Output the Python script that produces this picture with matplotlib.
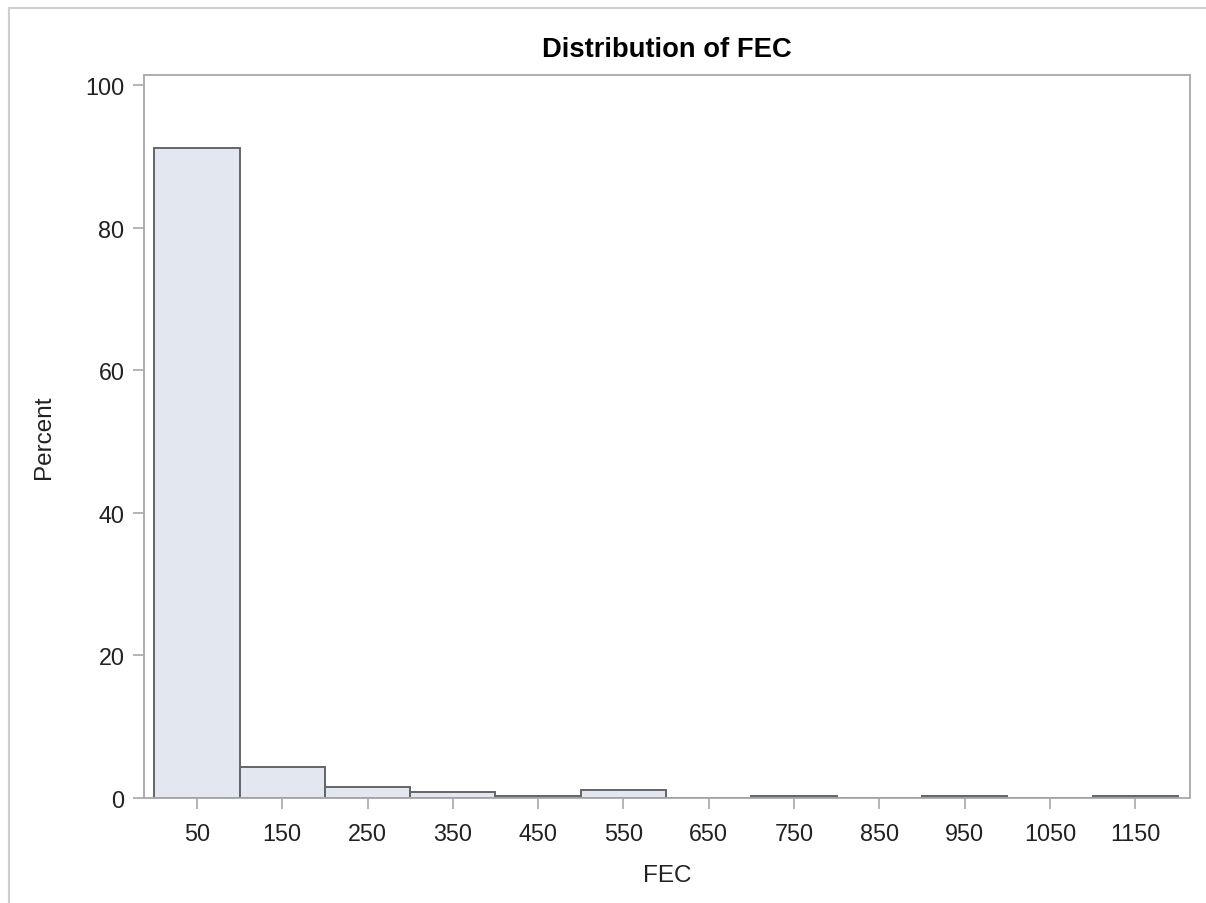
import matplotlib
matplotlib.use("Agg")
import matplotlib.pyplot as plt
from matplotlib.lines import Line2D

plt.rcParams["font.family"] = ["Liberation Sans", "DejaVu Sans"]

# histogram of FEC, bin width 100
bin_left = [0, 100, 200, 300, 400, 500, 600, 700, 800, 900, 1000, 1100]
percent = [91.2, 4.3, 1.6, 0.8, 0.3, 1.1, 0.0, 0.3, 0.0, 0.3, 0.0, 0.3]
xticks = [50, 150, 250, 350, 450, 550, 650, 750, 850, 950, 1050, 1150]
yticks = [0, 20, 40, 60, 80, 100]

frame = "#a6a9ad"

fig = plt.figure(figsize=(12.06, 9.04), dpi=100)
ax = fig.add_axes([0.1194, 0.1161, 0.8673, 0.7998])

ax.bar(bin_left, percent, width=100, align="edge",
       color="#e3e7f0", edgecolor="#62666b", linewidth=1.4)

ax.set_xlim(-12, 1214)
ax.set_ylim(0, 101.4)
ax.set_xticks(xticks)
ax.set_yticks(yticks)
ax.tick_params(axis="both", length=8, width=1.2, color=frame,
               labelsize=16.8, labelcolor="#222222", pad=6)
ax.tick_params(axis="x", pad=9)
for s in ax.spines.values():
    s.set_color(frame)
    s.set_linewidth(1.3)

ax.set_title("Distribution of FEC", fontsize=19.7, fontweight="bold", pad=14)
ax.set_xlabel("FEC", fontsize=17.5, labelpad=14, color="#222222")
ax.set_ylabel("Percent", fontsize=17.5, labelpad=22, color="#222222")

# outer border of the graph area
fig.add_artist(Line2D([9 / 1206, 9 / 1206], [0, 1 - 9 / 904],
                      transform=fig.transFigure, color="#cfcfcf", lw=1.5))
fig.add_artist(Line2D([9 / 1206, 1], [1 - 9 / 904, 1 - 9 / 904],
                      transform=fig.transFigure, color="#cfcfcf", lw=1.5))

fig.savefig("out.png", dpi=100)
